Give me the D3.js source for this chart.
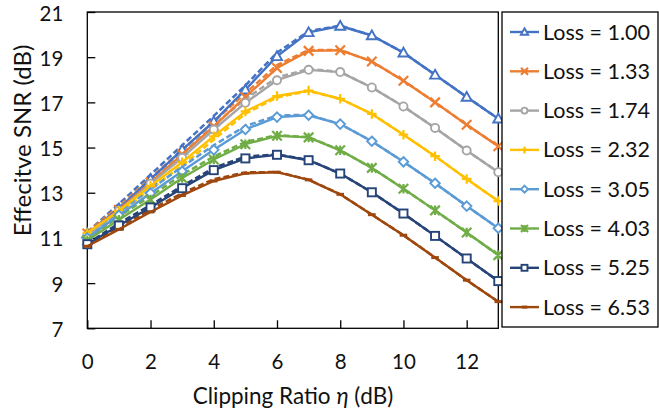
<!DOCTYPE html>
<html>
<head>
<meta charset="utf-8">
<script src="https://cdn.jsdelivr.net/npm/d3@7"></script>
<style>
  html, body { margin: 0; padding: 0; background: #fff; }
  svg { display: block; font-family: Lato, "Open Sans", sans-serif; }
</style>
</head>
<body>
<svg id="chart" width="659" height="409"></svg>
<script>
// Clipping ratio (dB) sample points
const clipRatio = [0, 1, 2, 3, 4, 5, 6, 7, 8, 9, 10, 11, 12, 13];

// Loss values, one curve each
const lossLabels = ["1.00", "1.33", "1.74", "2.32", "3.05", "4.03", "5.25", "6.53"];

// Simulated effective SNR (dB), solid lines with markers
const snrLoss100 = [11.2, 12.3, 13.6, 14.9, 16.15, 17.56, 19.04, 20.1, 20.38, 19.96, 19.2, 18.22, 17.24, 16.28];
const snrLoss133 = [11.2, 12.25, 13.45, 14.7, 15.94, 17.24, 18.52, 19.28, 19.31, 18.81, 17.96, 17.0, 16.01, 15.06];
const snrLoss174 = [11.1, 12.2, 13.4, 14.55, 15.8, 16.98, 17.98, 18.44, 18.34, 17.66, 16.82, 15.87, 14.87, 13.91];
const snrLoss232 = [11.22, 12.2, 13.3, 14.35, 15.5, 16.6, 17.28, 17.52, 17.16, 16.49, 15.57, 14.62, 13.61, 12.63];
const snrLoss305 = [11.0, 12.0, 12.98, 13.95, 14.9, 15.8, 16.35, 16.43, 16.04, 15.28, 14.37, 13.42, 12.41, 11.43];
const snrLoss403 = [10.9, 11.8, 12.7, 13.65, 14.47, 15.15, 15.52, 15.45, 14.88, 14.1, 13.18, 12.22, 11.24, 10.24];
const snrLoss525 = [10.72, 11.55, 12.35, 13.2, 14.0, 14.52, 14.68, 14.44, 13.85, 13.02, 12.08, 11.09, 10.09, 9.09];
const snrLoss653 = [10.63, 11.38, 12.15, 12.88, 13.52, 13.86, 13.91, 13.57, 12.93, 12.03, 11.12, 10.13, 9.13, 8.18];

// Analytical effective SNR (dB), dashed lines
const anaLoss100 = [11.25, 12.5, 13.8, 15.1, 16.4, 17.75, 19.2, 20.15, 20.4, 19.96, 19.2, 18.22, 17.24, 16.28];
const anaLoss133 = [11.25, 12.4, 13.65, 14.9, 16.15, 17.4, 18.65, 19.32, 19.32, 18.81, 17.96, 17.0, 16.01, 15.06];
const anaLoss174 = [11.15, 12.35, 13.6, 14.75, 16.0, 17.15, 18.1, 18.48, 18.35, 17.66, 16.82, 15.87, 14.87, 13.91];
const anaLoss232 = [11.2, 12.1, 13.15, 14.2, 15.35, 16.5, 17.22, 17.5, 17.16, 16.49, 15.57, 14.62, 13.61, 12.63];
const anaLoss305 = [11.05, 12.15, 13.15, 14.15, 15.1, 15.95, 16.42, 16.45, 16.04, 15.28, 14.37, 13.42, 12.41, 11.43];
const anaLoss403 = [10.95, 11.95, 12.85, 13.8, 14.6, 15.25, 15.55, 15.46, 14.88, 14.1, 13.18, 12.22, 11.24, 10.24];
const anaLoss525 = [10.75, 11.65, 12.45, 13.3, 14.1, 14.6, 14.7, 14.45, 13.85, 13.02, 12.08, 11.09, 10.09, 9.09];
const anaLoss653 = [10.65, 11.45, 12.25, 12.98, 13.6, 13.9, 13.92, 13.58, 12.93, 12.03, 11.12, 10.13, 9.13, 8.18];

const xTicks = [0, 2, 4, 6, 8, 10, 12];
const yTicks = [7, 9, 11, 13, 15, 17, 19, 21];

const colors = ["#4472C4", "#ED7D31", "#A5A5A5", "#FFC000", "#5B9BD5", "#70AD47", "#264478", "#9E480E"];
const markers = ["triangle", "cross", "circle", "plus", "diamond", "star", "square", "dash"];

const simSeries = [snrLoss100, snrLoss133, snrLoss174, snrLoss232, snrLoss305, snrLoss403, snrLoss525, snrLoss653];
const anaSeries = [anaLoss100, anaLoss133, anaLoss174, anaLoss232, anaLoss305, anaLoss403, anaLoss525, anaLoss653];

const svg = d3.select("#chart");
const plot = { left: 87.3, top: 12, right: 498.3, bottom: 328.3 };

const x = d3.scaleLinear().domain([0, 13]).range([plot.left, plot.right]);
const y = d3.scaleLinear().domain([7, 21]).range([plot.bottom, plot.top]);

// axes with inward ticks
const gx = svg.append("g")
  .attr("transform", `translate(0,${plot.bottom})`)
  .call(d3.axisBottom(x).tickValues(xTicks).tickSizeInner(-8).tickSizeOuter(0).tickPadding(26));
const gy = svg.append("g")
  .attr("transform", `translate(${plot.left},0)`)
  .call(d3.axisLeft(y).tickValues(yTicks).tickSizeInner(-8).tickSizeOuter(0).tickPadding(24));
[gx, gy].forEach(g => {
  g.select(".domain").remove();
  g.selectAll(".tick line").attr("stroke", "#000").attr("stroke-width", 1.3);
  g.selectAll(".tick text").attr("fill", "#111").style("font-size", "20.5px").style("font-family", "Lato, sans-serif");
});
// y labels: baseline a few pixels below each tick
gy.selectAll(".tick text").attr("dy", "8px");

// plot frame
svg.append("rect")
  .attr("x", plot.left).attr("y", plot.top)
  .attr("width", plot.right - plot.left).attr("height", plot.bottom - plot.top)
  .attr("fill", "none").attr("stroke", "#000").attr("stroke-width", 1.3);

const lineGen = d3.line().x((d, i) => x(clipRatio[i])).y(d => y(d));

const curves = svg.append("g");

// dashed analytical curves
anaSeries.forEach((vals, k) => {
  curves.append("path")
    .datum(vals)
    .attr("d", lineGen)
    .attr("fill", "none")
    .attr("stroke", colors[k])
    .attr("stroke-width", 2.5)
    .attr("stroke-dasharray", "6,3");
});

function drawMarker(g, type, color, cx, cy, s) {
  const h = s / 2;
  const sw = 1.9;
  switch (type) {
    case "triangle":
      g.append("path").attr("d", `M${cx},${cy - h * 1.05}L${cx + h * 1.05},${cy + h * 0.8}L${cx - h * 1.05},${cy + h * 0.8}Z`)
        .attr("fill", "#fff").attr("stroke", color).attr("stroke-width", sw);
      break;
    case "cross":
      g.append("path").attr("d", `M${cx - h},${cy - h}L${cx + h},${cy + h}M${cx - h},${cy + h}L${cx + h},${cy - h}`)
        .attr("stroke", color).attr("stroke-width", sw + 0.3);
      break;
    case "circle":
      g.append("circle").attr("cx", cx).attr("cy", cy).attr("r", h * 0.85)
        .attr("fill", "#fff").attr("stroke", color).attr("stroke-width", sw);
      break;
    case "plus":
      g.append("path").attr("d", `M${cx - h},${cy}L${cx + h},${cy}M${cx},${cy - h}L${cx},${cy + h}`)
        .attr("stroke", color).attr("stroke-width", sw + 0.3);
      break;
    case "diamond":
      g.append("path").attr("d", `M${cx},${cy - h}L${cx + h},${cy}L${cx},${cy + h}L${cx - h},${cy}Z`)
        .attr("fill", "#fff").attr("stroke", color).attr("stroke-width", sw);
      break;
    case "star":
      g.append("path").attr("d", `M${cx - h},${cy - h}L${cx + h},${cy + h}M${cx - h},${cy + h}L${cx + h},${cy - h}M${cx},${cy - h}L${cx},${cy + h}`)
        .attr("stroke", color).attr("stroke-width", sw + 0.3);
      break;
    case "square":
      g.append("rect").attr("x", cx - h * 0.85).attr("y", cy - h * 0.85).attr("width", h * 1.7).attr("height", h * 1.7)
        .attr("fill", "#fff").attr("stroke", color).attr("stroke-width", sw);
      break;
    case "dash":
      g.append("path").attr("d", `M${cx - h * 0.8},${cy}L${cx + h * 0.8},${cy}`)
        .attr("stroke", color).attr("stroke-width", 3);
      break;
  }
}

// solid simulated curves with markers
simSeries.forEach((vals, k) => {
  const g = curves.append("g");
  g.append("path")
    .datum(vals)
    .attr("d", lineGen)
    .attr("fill", "none")
    .attr("stroke", colors[k])
    .attr("stroke-width", 2.4)
    .attr("stroke-linejoin", "round");
  vals.forEach((v, i) => drawMarker(g, markers[k], colors[k], x(clipRatio[i]), y(v), 9.5));
});

// axis titles
svg.append("text")
  .attr("transform", "translate(31,140.5) rotate(-90)")
  .attr("text-anchor", "middle")
  .style("font-size", "24px")
  .attr("fill", "#111")
  .text("Effecitve SNR (dB)");

const xt = svg.append("text")
  .attr("x", 293).attr("y", 404)
  .attr("text-anchor", "middle")
  .style("font-size", "22.5px")
  .attr("fill", "#111");
xt.append("tspan").text("Clipping Ratio ");
xt.append("tspan").style("font-style", "italic").text("η");
xt.append("tspan").text(" (dB)");

// legend
const legend = svg.append("g");
legend.append("rect")
  .attr("x", 502).attr("y", 12).attr("width", 156).attr("height", 315)
  .attr("fill", "#fff").attr("stroke", "#000").attr("stroke-width", 1.3);
lossLabels.forEach((lab, k) => {
  const cy = 32 + k * 39.3;
  const g = legend.append("g");
  g.append("line").attr("x1", 510).attr("x2", 539).attr("y1", cy).attr("y2", cy)
    .attr("stroke", colors[k]).attr("stroke-width", 2.4);
  drawMarker(g, markers[k], colors[k], 524.5, cy, 7);
  g.append("text").attr("x", 543).attr("y", cy + 7.5)
    .style("font-size", "21.5px").attr("fill", "#111")
    .text(`Loss = ${lab}`);
});
</script>
</body>
</html>
